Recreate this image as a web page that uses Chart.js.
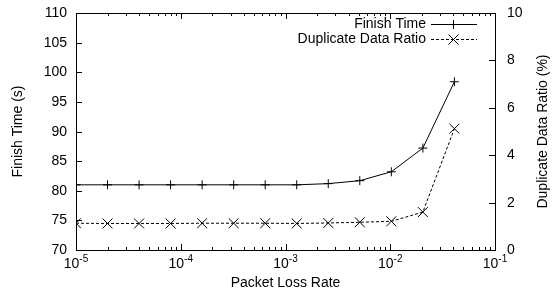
<!DOCTYPE html>
<html>
<head>
<meta charset="utf-8">
<script src="https://cdn.jsdelivr.net/npm/chart.js@4/dist/chart.umd.min.js"></script>
<style>
  html, body { margin: 0; padding: 0; background: #fff; }
  #plot { display: block; }
</style>
</head>
<body>
<canvas id="plot" width="554" height="295"></canvas>
<script>
// data
var lossRates = [0.00001, 0.00002, 0.00004, 0.00008, 0.00016, 0.00032, 0.00064, 0.00128, 0.00256, 0.00512, 0.01024, 0.02048, 0.04096];
var finishTime = [81.0, 81.0, 81.0, 81.0, 81.0, 81.0, 81.0, 81.0, 81.2, 81.7, 83.2, 87.2, 98.4];
var dupRatio = [1.13, 1.12, 1.12, 1.12, 1.13, 1.13, 1.13, 1.12, 1.14, 1.17, 1.21, 1.60, 5.12];
var decadeExponents = [-5, -4, -3, -2, -1];
var seriesNames = ['Finish Time', 'Duplicate Data Ratio'];

var FONT = '"Liberation Sans", Arial, sans-serif';

function pairs(xs, ys) {
    return xs.map(function (x, i) { return { x: x, y: ys[i] }; });
}

function marker(ctx, style, x, y, half) {
    ctx.beginPath();
    if (style === 'plus') {
        ctx.moveTo(x - half, y); ctx.lineTo(x + half, y);
        ctx.moveTo(x, y - half); ctx.lineTo(x, y + half);
    } else {
        ctx.moveTo(x - half, y - half); ctx.lineTo(x + half, y + half);
        ctx.moveTo(x - half, y + half); ctx.lineTo(x + half, y - half);
    }
    ctx.stroke();
}

var gnuplotFrame = {
    id: 'gnuplotFrame',
    afterDraw: function (chart) {
        var ctx = chart.ctx;
        var a = chart.chartArea;
        var xs = chart.scales.x, y1 = chart.scales.y, y2 = chart.scales.y2;
        ctx.save();
        ctx.strokeStyle = '#000';
        ctx.fillStyle = '#000';
        ctx.lineWidth = 1;

        // plot box
        ctx.strokeRect(Math.round(a.left) + 0.5, Math.round(a.top) + 0.5,
            Math.round(a.right - a.left), Math.round(a.bottom - a.top));

        ctx.font = '14px ' + FONT;
        ctx.textBaseline = 'middle';

        // left axis: inward ticks + labels
        ctx.beginPath();
        ctx.textAlign = 'right';
        y1.ticks.forEach(function (t) {
            var py = Math.round(y1.getPixelForValue(t.value)) + 0.5;
            ctx.moveTo(a.left, py); ctx.lineTo(a.left + 6, py);
            ctx.fillText(String(t.value), a.left - 9, py);
        });
        // right axis: inward ticks + labels
        ctx.textAlign = 'left';
        y2.ticks.forEach(function (t) {
            var py = Math.round(y2.getPixelForValue(t.value)) + 0.5;
            ctx.moveTo(a.right, py); ctx.lineTo(a.right - 6, py);
            ctx.fillText(String(t.value), a.right + 12, py);
        });
        // x log ticks on bottom and top
        decadeExponents.forEach(function (e, i) {
            var base = Math.pow(10, e);
            var px = Math.round(xs.getPixelForValue(base)) + 0.5;
            ctx.moveTo(px, a.bottom); ctx.lineTo(px, a.bottom - 6);
            ctx.moveTo(px, a.top); ctx.lineTo(px, a.top + 6);
            if (i === decadeExponents.length - 1) return;
            for (var m = 2; m <= 9; m++) {
                var mx = Math.round(xs.getPixelForValue(base * m)) + 0.5;
                ctx.moveTo(mx, a.bottom); ctx.lineTo(mx, a.bottom - 3);
                ctx.moveTo(mx, a.top); ctx.lineTo(mx, a.top + 3);
            }
        });
        ctx.stroke();

        // x tick labels as 10^e
        ctx.textBaseline = 'alphabetic';
        ctx.textAlign = 'left';
        decadeExponents.forEach(function (e) {
            var px = xs.getPixelForValue(Math.pow(10, e));
            ctx.font = '14px ' + FONT;
            var wBase = ctx.measureText('10').width;
            ctx.font = '10px ' + FONT;
            var wExp = ctx.measureText(String(e)).width;
            var x0 = px - (wBase + wExp) / 2;
            ctx.font = '14px ' + FONT;
            ctx.fillText('10', x0, 268);
            ctx.font = '10px ' + FONT;
            ctx.fillText(String(e), x0 + wBase, 262);
        });

        // axis titles
        ctx.font = '14px ' + FONT;
        ctx.textAlign = 'center';
        ctx.textBaseline = 'middle';
        ctx.fillText('Packet Loss Rate', (a.left + a.right) / 2, 283);
        var midY = (a.top + a.bottom) / 2;
        ctx.save();
        ctx.translate(18, midY);
        ctx.rotate(-Math.PI / 2);
        ctx.fillText('Finish Time (s)', 0, 0);
        ctx.restore();
        ctx.save();
        ctx.translate(543, midY);
        ctx.rotate(-Math.PI / 2);
        ctx.fillText('Duplicate Data Ratio (%)', 0, 0);
        ctx.restore();

        // key, top right inside the box
        var rows = [
            { name: seriesNames[0], y: 24, dash: false, style: 'plus', half: 4.5 },
            { name: seriesNames[1], y: 39, dash: true, style: 'x', half: 5 }
        ];
        rows.forEach(function (row) {
            ctx.textAlign = 'right';
            ctx.textBaseline = 'middle';
            ctx.fillText(row.name, 426, row.y);
            if (row.dash) {
                for (var sx = 431; sx < 477; sx += 5) {
                    ctx.fillRect(sx, row.y, Math.min(3, 477 - sx), 1);
                }
            } else {
                ctx.fillRect(431, row.y, 46, 1);
            }
            marker(ctx, row.style, 453.5, row.y + 0.5, row.half);
        });
        ctx.restore();
    }
};

new Chart(document.getElementById('plot'), {
    type: 'line',
    data: {
        datasets: [{
            label: seriesNames[0],
            data: pairs(lossRates, finishTime),
            yAxisID: 'y',
            borderColor: '#000',
            borderWidth: 1,
            pointStyle: 'cross',
            pointRadius: 4.5,
            pointBorderColor: '#000',
            pointBorderWidth: 1,
            tension: 0,
            fill: false
        }, {
            label: seriesNames[1],
            data: pairs(lossRates, dupRatio),
            yAxisID: 'y2',
            borderColor: '#000',
            borderWidth: 1,
            borderDash: [3, 2],
            pointStyle: 'crossRot',
            pointRadius: 7,
            pointBorderColor: '#000',
            pointBorderWidth: 1,
            tension: 0,
            fill: false
        }]
    },
    options: {
        responsive: false,
        animation: false,
        devicePixelRatio: 1,
        layout: { padding: { top: 13, left: 0, right: 0, bottom: 0 } },
        plugins: { legend: { display: false }, tooltip: { enabled: false } },
        scales: {
            x: {
                type: 'logarithmic',
                min: 0.00001,
                max: 0.1,
                grid: { display: false, drawTicks: false },
                border: { display: false },
                ticks: { display: false },
                afterFit: function (s) { s.height = 45; }
            },
            y: {
                position: 'left',
                min: 70,
                max: 110,
                grid: { display: false, drawTicks: false },
                border: { display: false },
                ticks: { display: false, stepSize: 5 },
                afterFit: function (s) { s.width = 76; }
            },
            y2: {
                position: 'right',
                min: 0,
                max: 10,
                grid: { display: false, drawTicks: false },
                border: { display: false },
                ticks: { display: false, stepSize: 2 },
                afterFit: function (s) { s.width = 59; }
            }
        }
    },
    plugins: [gnuplotFrame]
});
</script>
</body>
</html>
